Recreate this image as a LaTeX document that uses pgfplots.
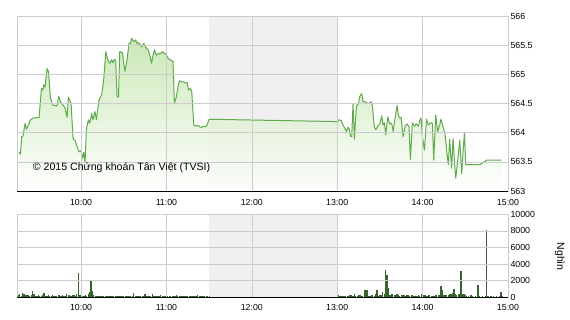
\documentclass[border=0pt]{standalone}
\usepackage{fontspec}
\setmainfont{Liberation Sans}
\usepackage{pgfplots}
\usepackage{pgfplotstable}
\pgfplotsset{compat=1.18}

\definecolor{priceline}{RGB}{95,170,75}
\definecolor{pricefill}{RGB}{190,226,165}
\definecolor{lunch}{RGB}{240,240,240}
\definecolor{gridc}{RGB}{204,204,204}
\definecolor{volbar}{RGB}{56,98,46}

% index price, minutes after 9:00
\pgfplotstableread{
t p
16.4 563.67
17.4 563.63
18.3 563.93
19.2 563.94
20.7 564.16
21.6 564.06
23.0 564.13
24.4 564.22
26.3 564.25
30.5 564.26
31.5 564.56
32.2 564.76
33.3 564.73
33.8 564.82
34.7 564.78
36.1 565.10
37.1 565.05
38.5 564.59
40.3 564.47
43.1 564.46
44.3 564.62
45.5 564.53
46.9 564.49
48.8 564.42
50.2 564.26
51.1 564.61
53.0 564.50
54.4 563.89
55.8 563.87
57.2 563.76
58.6 563.67
60.0 563.69
61.0 563.56
61.9 563.66
62.8 563.49
63.8 564.07
65.2 564.22
66.1 564.16
67.5 564.33
68.4 564.22
69.8 564.36
70.8 564.22
71.7 564.39
72.6 564.56
74.5 564.65
75.9 564.90
77.4 565.39
78.8 565.25
80.2 565.19
81.6 565.25
82.5 565.20
83.5 565.26
84.4 565.23
85.3 564.62
86.3 564.61
87.2 565.39
89.1 565.37
90.0 565.19
90.9 565.05
92.3 565.25
93.7 565.53
94.7 565.53
95.6 565.62
96.5 565.58
97.5 565.56
98.4 565.59
99.3 565.53
100.3 565.54
101.2 565.52
102.6 565.47
104.1 565.53
105.5 565.46
106.9 565.43
108.3 565.33
109.5 565.19
110.6 565.33
111.6 565.42
113.0 565.33
114.4 565.36
115.8 565.35
117.2 565.39
118.6 565.36
120.0 565.33
121.4 565.27
122.8 565.25
124.2 565.22
124.6 565.23
125.6 564.50
127.0 564.62
128.4 564.82
129.3 564.89
130.8 564.87
132.2 564.87
133.1 564.85
134.5 564.86
135.5 564.73
136.9 564.76
137.8 564.70
139.2 564.13
140.6 564.11
142.0 564.13
143.4 564.10
144.8 564.09
146.2 564.11
147.6 564.10
148.5 564.13
150.0 564.23
240.0 564.19
241.3 564.22
242.7 564.21
244.1 564.13
245.5 564.07
246.5 564.02
247.4 564.09
248.3 564.07
249.3 563.94
250.2 563.93
251.1 564.49
252.1 563.89
253.5 564.46
254.9 564.49
255.8 564.62
257.2 564.67
258.1 564.53
259.5 564.53
260.9 564.51
262.3 564.50
263.8 564.53
264.7 564.46
266.1 564.10
267.1 564.05
268.5 564.11
269.9 564.15
271.3 564.29
272.2 564.13
273.2 564.17
274.1 563.96
275.5 564.27
276.9 564.15
278.3 564.16
279.3 564.02
280.7 564.26
282.1 564.47
283.0 564.29
283.9 564.25
284.9 564.26
286.3 563.93
287.7 564.11
289.1 564.15
290.5 564.10
291.4 563.54
292.8 564.17
294.2 564.11
295.6 564.15
297.1 564.11
298.0 564.21
298.9 564.25
299.9 563.93
301.3 563.70
302.7 564.23
304.1 564.13
305.5 564.17
306.9 564.16
307.8 563.53
309.2 564.30
310.6 564.02
312.0 564.13
312.9 564.23
314.3 564.10
315.7 563.99
317.1 563.65
318.1 563.45
319.0 563.89
320.4 563.39
321.4 563.90
322.3 563.53
323.3 563.22
324.7 563.53
326.1 563.87
327.5 563.30
328.4 563.67
329.4 564.00
330.3 563.45
340.1 563.45
345.3 563.53
355.4 563.53
}\price

% traded volume per minute (thousand shares)
\pgfplotstableread{
t v
16 300
17 350
18 200
19 480
20 450
21 250
22 250
23 300
24 150
25 250
26 760
27 400
28 200
29 150
30 250
31 100
32 150
33 300
34 560
35 200
36 150
37 250
38 200
39 150
40 300
41 150
42 200
43 100
44 250
45 300
46 150
47 250
48 200
49 150
50 350
51 300
52 250
53 200
54 300
55 250
56 200
57 350
58 2970
59 300
60 250
61 200
62 150
63 250
64 200
65 350
66 650
67 2090
68 700
69 300
70 150
71 200
72 150
73 100
74 200
75 150
76 100
77 150
78 200
79 100
80 150
81 100
82 150
83 100
84 150
85 200
86 100
87 150
88 100
89 150
90 200
91 150
92 100
93 150
94 100
95 150
96 200
97 550
98 150
99 100
100 150
101 200
102 100
103 150
104 200
105 450
106 150
107 100
108 150
109 200
110 400
111 150
112 200
113 150
114 100
115 150
116 250
117 150
118 100
119 200
120 150
121 100
122 150
123 200
124 150
125 100
126 150
127 250
128 150
129 100
130 150
131 200
132 150
133 100
134 150
135 200
136 150
137 100
138 150
139 200
140 150
141 100
142 250
143 150
144 200
145 150
146 100
147 150
148 200
149 150
150 100
240 400
241 250
242 200
243 150
244 200
245 150
246 200
247 150
248 200
249 250
250 300
251 200
252 400
253 150
254 200
255 300
256 250
257 150
258 200
259 920
260 920
261 880
262 200
263 150
264 250
265 300
266 200
267 350
268 840
269 200
270 300
271 250
272 600
273 400
274 3280
275 2680
276 1080
277 300
278 400
279 350
280 300
281 250
282 350
283 300
284 200
285 250
286 300
287 250
288 200
289 300
290 250
291 200
292 300
293 250
294 200
295 150
296 200
297 250
298 200
299 400
300 550
301 300
302 250
303 200
304 300
305 250
306 200
307 150
308 200
309 250
310 300
311 250
312 300
313 1360
314 880
315 300
316 250
317 300
318 250
319 350
320 400
321 500
322 1040
323 350
324 300
325 450
326 400
327 3210
328 400
329 350
330 300
331 150
332 200
334 250
335 200
337 200
339 1480
340 200
342 150
344 200
345 8080
346 200
348 150
350 150
352 200
354 150
355 680
356 200
}\volume

\pgfplotsset{
  tvsi/.style={
    scale only axis, width=491pt,
    xmin=15, xmax=360,
    xtick={60,120,180,240,300,360},
    xticklabels={10:00,11:00,12:00,13:00,14:00,15:00},
    grid=major, grid style={gridc, line width=0.6pt},
    axis line style={gridc, line width=0.6pt},
    axis on top,
    major tick length=0pt,
    tick label style={font=\fontsize{8.8}{10}\selectfont, text=black},
    /pgf/number format/assume math mode=true,
    yticklabel pos=right,
    yticklabel style={anchor=west, xshift=-1pt},
  }
}

\begin{document}
\begin{tikzpicture}
\path[use as bounding box] (0,0) rectangle (570pt,320pt);

% price panel, plotted as height above the 563 baseline
\begin{axis}[tvsi, name=pricepanel, at={(17pt,129pt)}, anchor=south west,
  height=175pt,
  ymin=0, ymax=3,
  ytick={0,0.5,1,1.5,2,2.5,3},
  yticklabel={\pgfmathparse{\tick+563}\pgfmathprintnumber[fixed,precision=1]{\pgfmathresult}},
  xticklabel style={yshift=-5pt}]
  \fill[lunch] (axis cs:150,0) rectangle (axis cs:240,3);
  \addplot[draw=none, top color=pricefill, bottom color=white, fill opacity=0.8]
    table[x=t, y expr=\thisrow{p}-563] {\price} \closedcycle;
  \addplot[priceline, line width=1pt, line join=round]
    table[x=t, y expr=\thisrow{p}-563] {\price};
\end{axis}
\draw[black, line width=0.9pt] (pricepanel.south west) -- (pricepanel.south east);

% volume panel
\begin{axis}[tvsi, name=volpanel, at={(17pt,22.7pt)}, anchor=south west,
  height=83pt,
  ymin=0, ymax=10000,
  ytick={0,2000,4000,6000,8000,10000},
  scaled y ticks=false,
  /pgf/number format/1000 sep={},
  xticklabel style={yshift=-4pt}]
  \fill[lunch] (axis cs:150,0) rectangle (axis cs:240,10000);
  \addplot[ycomb, volbar, line width=1.25pt] table[x=t, y=v] {\volume};
\end{axis}
\draw[black, line width=0.9pt] (volpanel.south west) -- (volpanel.south east);

\node[anchor=base west, inner sep=0pt, font=\fontsize{10.6}{12}\selectfont]
  at (32.7pt,149pt) {© 2015 Chứng khoán Tân Việt (TVSI)};
\node[rotate=-90, inner sep=0pt, font=\fontsize{10.5}{12}\selectfont]
  at (560pt,63.3pt) {Nghìn};
\end{tikzpicture}
\end{document}
